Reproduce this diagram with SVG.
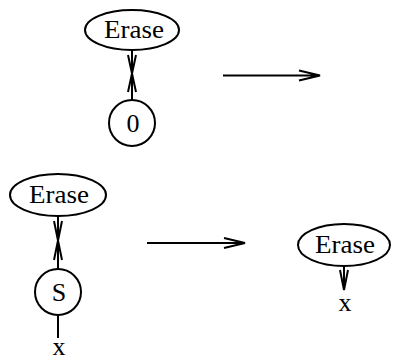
<svg xmlns="http://www.w3.org/2000/svg" width="393" height="362" viewBox="0 0 393 362">
<style>
.n{fill:#fff;stroke:#000;stroke-width:2}
.c{fill:none;stroke:#000;stroke-width:2}
text{font-family:'Liberation Serif','Times New Roman',Times,serif;font-size:26px;fill:#000;text-anchor:middle}
</style>
<rect width="393" height="362" fill="#fff"/>
<g id="connectors">
  <path class="c" d="M132,50V100M128,55L136,92M136,55L128,92"/>
  <path class="c" d="M58,216V269M54,221L62,260M62,221L54,260"/>
  <path class="c" d="M58,315V338"/>
  <path class="c" d="M344,266V290M340,270L344,290L348,270"/>
  <path class="c" d="M223,75.5H320M299,70.5L320,75.5L299,80.5"/>
  <path class="c" d="M147,243H245M224,238L245,243L224,248"/>
</g>
<g id="erase1"><ellipse class="n" cx="132" cy="30" rx="47" ry="20"/><text x="134" y="38" textLength="60" lengthAdjust="spacingAndGlyphs">Erase</text></g>
<g id="zero"><circle class="n" cx="132" cy="123" r="23"/><text x="133" y="132">0</text></g>
<g id="erase2"><ellipse class="n" cx="58" cy="195" rx="48" ry="21"/><text x="59" y="203" textLength="60" lengthAdjust="spacingAndGlyphs">Erase</text></g>
<g id="succ"><circle class="n" cx="58" cy="292" r="23"/><text x="59" y="301">S</text></g>
<g id="x1"><text x="59" y="355">x</text></g>
<g id="erase3"><ellipse class="n" cx="344" cy="245" rx="46" ry="21"/><text x="345" y="253" textLength="60" lengthAdjust="spacingAndGlyphs">Erase</text></g>
<g id="x2"><text x="345" y="311">x</text></g>
</svg>
